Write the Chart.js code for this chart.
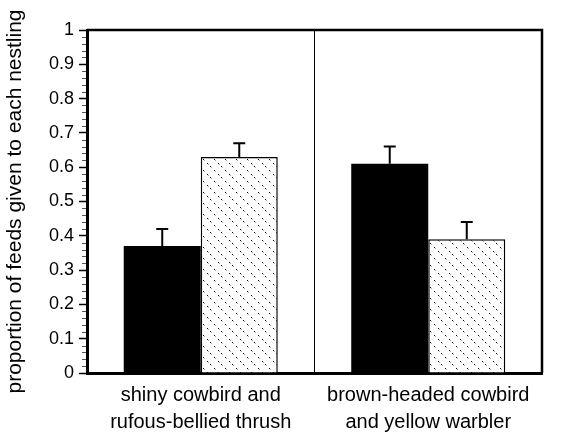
<!DOCTYPE html>
<html><head><meta charset="utf-8">
<script src="https://cdn.jsdelivr.net/npm/chart.js@4"></script>
<style>html,body{margin:0;padding:0;background:#fff}</style>
</head><body>
<canvas id="c" width="561" height="439"></canvas>
<script>
const categories = [["shiny cowbird and", "rufous-bellied thrush"], ["brown-headed cowbird", "and yellow warbler"]];
const cowbirdValues = [0.37, 0.61];
const cowbirdErrors = [0.05, 0.05];
const hostValues = [0.63, 0.39];
const hostErrors = [0.04, 0.05];
const yTitle = "proportion of feeds given to each nestling";

const FONT = "'Liberation Sans', Arial, Helvetica, sans-serif";
const canvas = document.getElementById('c');
const ctx = canvas.getContext('2d');

function makeHatch() {
  const t = document.createElement('canvas');
  t.width = 11; t.height = 11;
  const g = t.getContext('2d');
  g.fillStyle = '#fff'; g.fillRect(0, 0, 11, 11);
  g.fillStyle = '#000';
  [[1, 1], [5, 5], [9, 9]].forEach(([x, y]) => g.fillRect(x, y, 1, 1));
  g.fillStyle = '#aaa';
  [[2, 2], [6, 6], [10, 10]].forEach(([x, y]) => g.fillRect(x, y, 1, 1));
  return ctx.createPattern(t, 'repeat');
}

const errorSets = [cowbirdErrors, hostErrors];

const decor = {
  id: 'decor',
  afterDatasetsDraw(chart) {
    const c = chart.ctx, y = chart.scales.y, a = chart.chartArea;
    c.save();
    c.strokeStyle = '#000';
    chart.data.datasets.forEach((ds, i) => {
      const meta = chart.getDatasetMeta(i);
      meta.data.forEach((el, j) => {
        const v = ds.data[j], e = errorSets[i][j];
        const yt = y.getPixelForValue(v + e);
        c.lineWidth = 2;
        c.beginPath();
        c.moveTo(el.x, el.y); c.lineTo(el.x, yt);
        c.moveTo(el.x - 6, yt); c.lineTo(el.x + 6, yt);
        c.stroke();
      });
    });
    c.lineWidth = 2.5;
    c.beginPath();
    c.moveTo(a.left, a.top); c.lineTo(a.right, a.top); c.lineTo(a.right, a.bottom);
    c.stroke();
    c.lineWidth = 1;
    c.strokeStyle = '#555';
    for (let k = 1; k < 50; k++) {
      if (k % 5 === 0) continue;
      const py = Math.round(y.getPixelForValue(k / 50)) + 0.5;
      c.beginPath(); c.moveTo(a.left - 5, py); c.lineTo(a.left - 1, py); c.stroke();
    }
    c.restore();
  }
};

new Chart(ctx, {
  type: 'bar',
  data: {
    labels: categories,
    datasets: [
      { data: cowbirdValues, backgroundColor: '#000', borderWidth: 0, categoryPercentage: 0.677, barPercentage: 1 },
      { data: hostValues, backgroundColor: makeHatch(), borderColor: '#000', borderWidth: 1.5, categoryPercentage: 0.677, barPercentage: 1 }
    ]
  },
  options: {
    responsive: false,
    animation: false,
    layout: { padding: { left: 0, top: 30, right: 19, bottom: 0 } },
    plugins: { legend: { display: false }, tooltip: { enabled: false } },
    scales: {
      x: {
        grid: { offset: true, drawTicks: false, lineWidth: 1, color: (c) => c.index === 1 ? '#000' : 'rgba(0,0,0,0)' },
        border: { color: '#000', width: 3 },
        ticks: { color: '#000', font: { family: FONT, size: 20, lineHeight: 1.35 }, padding: 9, maxRotation: 0, autoSkip: false },
        afterFit: (s) => { s.height = 66; }
      },
      y: {
        min: 0, max: 1,
        ticks: {
          stepSize: 0.1, color: '#000', font: { family: FONT, size: 18 }, padding: 5,
          callback: (v) => { const r = Math.round(v * 10) / 10; return (r === 0 || r === 1) ? String(r) : r.toFixed(1); }
        },
        grid: { drawOnChartArea: false, tickLength: 8, tickColor: '#000', tickWidth: 1.5 },
        border: { color: '#000', width: 3 },
        title: { display: true, text: yTitle, color: '#000', font: { family: FONT, size: 21 }, padding: { top: 3, bottom: 0 } },
        afterFit: (s) => { s.width = 87; }
      }
    }
  },
  plugins: [decor]
});
</script>
</body></html>
